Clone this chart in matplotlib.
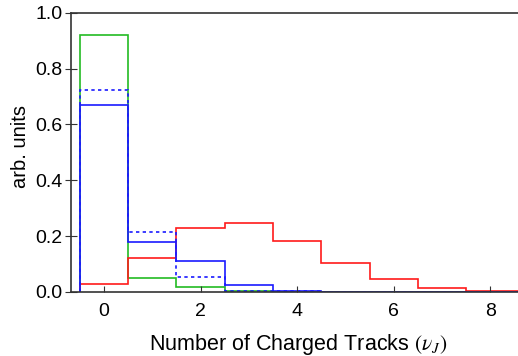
import matplotlib.pyplot as plt
import numpy as np

plt.rcParams["font.family"] = ["Liberation Sans", "DejaVu Sans"]
plt.rcParams["mathtext.fontset"] = "stix"

n_tracks = np.arange(0, 10)
green = [0.922, 0.049, 0.019, 0.003, 0.0, 0.0, 0.0, 0.0, 0.0, 0.0]
red = [0.030, 0.123, 0.230, 0.248, 0.181, 0.103, 0.047, 0.015, 0.004, 0.002]
blue_dotted = [0.724, 0.213, 0.052, 0.005, 0.002, 0.0, 0.0, 0.0, 0.0, 0.0]
blue_solid = [0.669, 0.180, 0.112, 0.026, 0.002, 0.0, 0.0, 0.0, 0.0, 0.0]

edges = np.append(n_tracks - 0.5, n_tracks[-1] + 0.5)

fig = plt.figure(figsize=(5.18, 3.56), dpi=100)
ax = fig.add_axes([0.138, 0.180, 0.862, 0.784])

ax.stairs(green, edges, baseline=0, color="#22bb22", lw=1.2)
ax.stairs(red, edges, baseline=0, color="#ff1a1a", lw=1.2)
ax.stairs(blue_dotted, edges, baseline=0, color="#1a1aff", lw=1.2, ls=(0, (2, 2)))
ax.stairs(blue_solid, edges, baseline=0, color="#1a1aff", lw=1.2)

ax.set_xlim(-0.67, 8.57)
ax.set_ylim(0, 1.0)
ax.set_xticks([0, 2, 4, 6, 8])
ax.set_yticks(np.arange(0, 1.01, 0.2))
ax.set_yticklabels(["%.1f" % v for v in np.arange(0, 1.01, 0.2)])
ax.tick_params(labelsize=14, color="#333333")
ax.tick_params(axis="x", direction="in", length=4, pad=8)
ax.tick_params(axis="y", direction="inout", length=9, pad=2)
for s in ax.spines.values():
    s.set_color("#333333")
    s.set_linewidth(1.2)
ax.spines["right"].set_visible(False)

ax.set_xlabel(r"Number of Charged Tracks $(\nu_J)$", fontsize=15.5)
ax.xaxis.set_label_coords(0.507, -0.145)
ax.set_ylabel("arb. units", fontsize=14.5)
ax.yaxis.set_label_coords(-0.092, 0.52)

fig.savefig("out.png", dpi=100)
